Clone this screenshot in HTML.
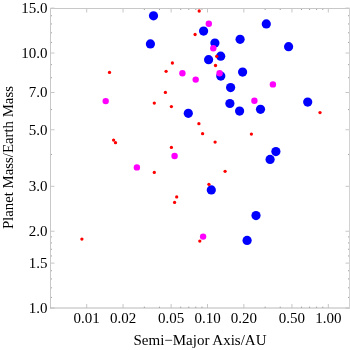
<!DOCTYPE html>
<html><head><meta charset="utf-8"><style>
html,body{margin:0;padding:0;background:#fff;width:350px;height:350px;overflow:hidden}
svg{display:block;will-change:transform}
text{font-family:"Liberation Serif",serif;font-size:15px;fill:#000}
</style></head><body>
<svg width="350" height="350" viewBox="0 0 350 350">
<rect x="0" y="0" width="350" height="350" fill="#fff"/>
<g stroke="#c6c6c6" stroke-width="1" fill="none">
<line x1="86.70" y1="308.0" x2="86.70" y2="304.0"/>
<line x1="86.70" y1="8.5" x2="86.70" y2="12.5"/>
<line x1="123.06" y1="308.0" x2="123.06" y2="304.0"/>
<line x1="123.06" y1="8.5" x2="123.06" y2="12.5"/>
<line x1="171.14" y1="308.0" x2="171.14" y2="304.0"/>
<line x1="171.14" y1="8.5" x2="171.14" y2="12.5"/>
<line x1="207.50" y1="308.0" x2="207.50" y2="304.0"/>
<line x1="207.50" y1="8.5" x2="207.50" y2="12.5"/>
<line x1="243.86" y1="308.0" x2="243.86" y2="304.0"/>
<line x1="243.86" y1="8.5" x2="243.86" y2="12.5"/>
<line x1="291.94" y1="308.0" x2="291.94" y2="304.0"/>
<line x1="291.94" y1="8.5" x2="291.94" y2="12.5"/>
<line x1="328.30" y1="308.0" x2="328.30" y2="304.0"/>
<line x1="328.30" y1="8.5" x2="328.30" y2="12.5"/>
<line x1="50.5" y1="308.00" x2="54.5" y2="308.00"/>
<line x1="349.5" y1="308.00" x2="345.5" y2="308.00"/>
<line x1="50.5" y1="263.10" x2="54.5" y2="263.10"/>
<line x1="349.5" y1="263.10" x2="345.5" y2="263.10"/>
<line x1="50.5" y1="231.24" x2="54.5" y2="231.24"/>
<line x1="349.5" y1="231.24" x2="345.5" y2="231.24"/>
<line x1="50.5" y1="186.33" x2="54.5" y2="186.33"/>
<line x1="349.5" y1="186.33" x2="345.5" y2="186.33"/>
<line x1="50.5" y1="129.76" x2="54.5" y2="129.76"/>
<line x1="349.5" y1="129.76" x2="345.5" y2="129.76"/>
<line x1="50.5" y1="92.50" x2="54.5" y2="92.50"/>
<line x1="349.5" y1="92.50" x2="345.5" y2="92.50"/>
<line x1="50.5" y1="53.00" x2="54.5" y2="53.00"/>
<line x1="349.5" y1="53.00" x2="345.5" y2="53.00"/>
<line x1="50.5" y1="8.10" x2="54.5" y2="8.10"/>
<line x1="349.5" y1="8.10" x2="345.5" y2="8.10"/>
</g>
<g stroke="#8c8c8c" stroke-width="1" fill="none">
<line x1="144.34" y1="308.0" x2="144.34" y2="306.7"/>
<line x1="144.34" y1="8.5" x2="144.34" y2="9.8"/>
<line x1="159.43" y1="308.0" x2="159.43" y2="306.7"/>
<line x1="159.43" y1="8.5" x2="159.43" y2="9.8"/>
<line x1="180.70" y1="308.0" x2="180.70" y2="306.7"/>
<line x1="180.70" y1="8.5" x2="180.70" y2="9.8"/>
<line x1="188.79" y1="308.0" x2="188.79" y2="306.7"/>
<line x1="188.79" y1="8.5" x2="188.79" y2="9.8"/>
<line x1="195.79" y1="308.0" x2="195.79" y2="306.7"/>
<line x1="195.79" y1="8.5" x2="195.79" y2="9.8"/>
<line x1="201.97" y1="308.0" x2="201.97" y2="306.7"/>
<line x1="201.97" y1="8.5" x2="201.97" y2="9.8"/>
<line x1="265.14" y1="308.0" x2="265.14" y2="306.7"/>
<line x1="265.14" y1="8.5" x2="265.14" y2="9.8"/>
<line x1="280.23" y1="308.0" x2="280.23" y2="306.7"/>
<line x1="280.23" y1="8.5" x2="280.23" y2="9.8"/>
<line x1="301.50" y1="308.0" x2="301.50" y2="306.7"/>
<line x1="301.50" y1="8.5" x2="301.50" y2="9.8"/>
<line x1="309.59" y1="308.0" x2="309.59" y2="306.7"/>
<line x1="309.59" y1="8.5" x2="309.59" y2="9.8"/>
<line x1="316.59" y1="308.0" x2="316.59" y2="306.7"/>
<line x1="316.59" y1="8.5" x2="316.59" y2="9.8"/>
<line x1="322.77" y1="308.0" x2="322.77" y2="306.7"/>
<line x1="322.77" y1="8.5" x2="322.77" y2="9.8"/>
<line x1="50.5" y1="297.44" x2="51.8" y2="297.44"/>
<line x1="349.5" y1="297.44" x2="348.2" y2="297.44"/>
<line x1="50.5" y1="287.81" x2="51.8" y2="287.81"/>
<line x1="349.5" y1="287.81" x2="348.2" y2="287.81"/>
<line x1="50.5" y1="278.94" x2="51.8" y2="278.94"/>
<line x1="349.5" y1="278.94" x2="348.2" y2="278.94"/>
<line x1="50.5" y1="270.74" x2="51.8" y2="270.74"/>
<line x1="349.5" y1="270.74" x2="348.2" y2="270.74"/>
<line x1="50.5" y1="255.95" x2="51.8" y2="255.95"/>
<line x1="349.5" y1="255.95" x2="348.2" y2="255.95"/>
<line x1="50.5" y1="249.24" x2="51.8" y2="249.24"/>
<line x1="349.5" y1="249.24" x2="348.2" y2="249.24"/>
<line x1="50.5" y1="242.91" x2="51.8" y2="242.91"/>
<line x1="349.5" y1="242.91" x2="348.2" y2="242.91"/>
<line x1="50.5" y1="236.92" x2="51.8" y2="236.92"/>
<line x1="349.5" y1="236.92" x2="348.2" y2="236.92"/>
<line x1="50.5" y1="154.47" x2="51.8" y2="154.47"/>
<line x1="349.5" y1="154.47" x2="348.2" y2="154.47"/>
<line x1="50.5" y1="109.57" x2="51.8" y2="109.57"/>
<line x1="349.5" y1="109.57" x2="348.2" y2="109.57"/>
<line x1="50.5" y1="77.71" x2="51.8" y2="77.71"/>
<line x1="349.5" y1="77.71" x2="348.2" y2="77.71"/>
<line x1="50.5" y1="64.67" x2="51.8" y2="64.67"/>
<line x1="349.5" y1="64.67" x2="348.2" y2="64.67"/>
<line x1="50.5" y1="42.44" x2="51.8" y2="42.44"/>
<line x1="349.5" y1="42.44" x2="348.2" y2="42.44"/>
<line x1="50.5" y1="32.81" x2="51.8" y2="32.81"/>
<line x1="349.5" y1="32.81" x2="348.2" y2="32.81"/>
<line x1="50.5" y1="23.94" x2="51.8" y2="23.94"/>
<line x1="349.5" y1="23.94" x2="348.2" y2="23.94"/>
<line x1="50.5" y1="15.74" x2="51.8" y2="15.74"/>
<line x1="349.5" y1="15.74" x2="348.2" y2="15.74"/>
</g>
<g stroke-width="1">
<line x1="50" y1="8.5" x2="350" y2="8.5" stroke="#c8c8c8"/>
<line x1="50.5" y1="8" x2="50.5" y2="308.5" stroke="#c8c8c8"/>
<line x1="50" y1="308.0" x2="350" y2="308.0" stroke="#b8b8b8"/>
<line x1="349.5" y1="8" x2="349.5" y2="308.5" stroke="#d2d2d2"/>
</g>
<g>
<circle cx="153.5" cy="15.8" r="4.6" fill="#0000ff"/>
<circle cx="150.4" cy="43.9" r="4.6" fill="#0000ff"/>
<circle cx="266.3" cy="23.9" r="4.6" fill="#0000ff"/>
<circle cx="203.6" cy="31.1" r="4.6" fill="#0000ff"/>
<circle cx="214.9" cy="43.1" r="4.6" fill="#0000ff"/>
<circle cx="240.1" cy="39.3" r="4.6" fill="#0000ff"/>
<circle cx="288.6" cy="46.7" r="4.6" fill="#0000ff"/>
<circle cx="220.7" cy="56.2" r="4.6" fill="#0000ff"/>
<circle cx="208.6" cy="59.7" r="4.6" fill="#0000ff"/>
<circle cx="220.8" cy="76.1" r="4.6" fill="#0000ff"/>
<circle cx="242.6" cy="72.1" r="4.6" fill="#0000ff"/>
<circle cx="230.6" cy="87.6" r="4.6" fill="#0000ff"/>
<circle cx="229.9" cy="103.5" r="4.6" fill="#0000ff"/>
<circle cx="239.6" cy="111.1" r="4.6" fill="#0000ff"/>
<circle cx="260.5" cy="109.3" r="4.6" fill="#0000ff"/>
<circle cx="307.7" cy="102.1" r="4.6" fill="#0000ff"/>
<circle cx="188.3" cy="113.3" r="4.6" fill="#0000ff"/>
<circle cx="275.9" cy="151.6" r="4.6" fill="#0000ff"/>
<circle cx="270.1" cy="159.4" r="4.6" fill="#0000ff"/>
<circle cx="211.3" cy="189.9" r="4.6" fill="#0000ff"/>
<circle cx="256" cy="215.6" r="4.6" fill="#0000ff"/>
<circle cx="247.1" cy="240.4" r="4.6" fill="#0000ff"/>
<circle cx="105.7" cy="101.1" r="3.2" fill="#ff00ff"/>
<circle cx="136.9" cy="167.4" r="3.2" fill="#ff00ff"/>
<circle cx="174.6" cy="156" r="3.2" fill="#ff00ff"/>
<circle cx="208.8" cy="23.8" r="3.2" fill="#ff00ff"/>
<circle cx="213.3" cy="48.3" r="3.2" fill="#ff00ff"/>
<circle cx="182.4" cy="73.3" r="3.2" fill="#ff00ff"/>
<circle cx="195.7" cy="79.6" r="3.2" fill="#ff00ff"/>
<circle cx="219.6" cy="73.2" r="3.2" fill="#ff00ff"/>
<circle cx="272.9" cy="84.4" r="3.2" fill="#ff00ff"/>
<circle cx="254.4" cy="100.8" r="3.2" fill="#ff00ff"/>
<circle cx="203.1" cy="236.6" r="3.2" fill="#ff00ff"/>
<circle cx="109.5" cy="72.4" r="1.65" fill="#ff0000"/>
<circle cx="166.1" cy="71.3" r="1.65" fill="#ff0000"/>
<circle cx="172.4" cy="63" r="1.65" fill="#ff0000"/>
<circle cx="165.4" cy="92.4" r="1.65" fill="#ff0000"/>
<circle cx="154.3" cy="103.1" r="1.65" fill="#ff0000"/>
<circle cx="171.4" cy="106.6" r="1.65" fill="#ff0000"/>
<circle cx="113.6" cy="140.1" r="1.65" fill="#ff0000"/>
<circle cx="115.5" cy="142.7" r="1.65" fill="#ff0000"/>
<circle cx="171.4" cy="147.4" r="1.65" fill="#ff0000"/>
<circle cx="154.3" cy="172.4" r="1.65" fill="#ff0000"/>
<circle cx="199.2" cy="11.0" r="1.65" fill="#ff0000"/>
<circle cx="195.1" cy="34.5" r="1.65" fill="#ff0000"/>
<circle cx="215.5" cy="65.5" r="1.65" fill="#ff0000"/>
<circle cx="216.7" cy="56.3" r="1.65" fill="#ff0000"/>
<circle cx="320" cy="112.6" r="1.65" fill="#ff0000"/>
<circle cx="198.9" cy="123.7" r="1.65" fill="#ff0000"/>
<circle cx="202.6" cy="133.7" r="1.65" fill="#ff0000"/>
<circle cx="251.4" cy="134.1" r="1.65" fill="#ff0000"/>
<circle cx="215.1" cy="142.1" r="1.65" fill="#ff0000"/>
<circle cx="225.1" cy="171.3" r="1.65" fill="#ff0000"/>
<circle cx="81.9" cy="239.1" r="1.65" fill="#ff0000"/>
<circle cx="208.9" cy="184.3" r="1.65" fill="#ff0000"/>
<circle cx="176.7" cy="196.9" r="1.65" fill="#ff0000"/>
<circle cx="174.6" cy="202.4" r="1.65" fill="#ff0000"/>
<circle cx="199.8" cy="241.1" r="1.65" fill="#ff0000"/>
</g>
<g>
<text x="86.70" y="323" text-anchor="middle">0.01</text>
<text x="123.06" y="323" text-anchor="middle">0.02</text>
<text x="171.14" y="323" text-anchor="middle">0.05</text>
<text x="207.50" y="323" text-anchor="middle">0.10</text>
<text x="243.86" y="323" text-anchor="middle">0.20</text>
<text x="291.94" y="323" text-anchor="middle">0.50</text>
<text x="328.30" y="323" text-anchor="middle">1.00</text>
<text x="47.5" y="312.80" text-anchor="end">1.0</text>
<text x="47.5" y="267.90" text-anchor="end">1.5</text>
<text x="47.5" y="236.04" text-anchor="end">2.0</text>
<text x="47.5" y="191.13" text-anchor="end">3.0</text>
<text x="47.5" y="134.56" text-anchor="end">5.0</text>
<text x="47.5" y="97.30" text-anchor="end">7.0</text>
<text x="47.5" y="57.80" text-anchor="end">10.0</text>
<text x="47.5" y="12.90" text-anchor="end">15.0</text>
<text x="200" y="344.5" text-anchor="middle">Semi&#8722;Major Axis/AU</text>
<text transform="translate(13,157.6) rotate(-90)" text-anchor="middle" style="font-size:14.8px">Planet Mass/Earth Mass</text>
</g>
</svg>
</body></html>
